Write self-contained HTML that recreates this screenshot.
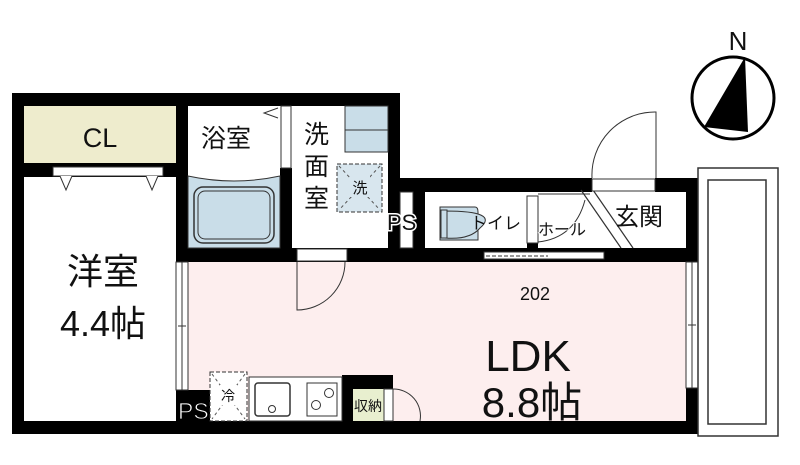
<!DOCTYPE html>
<html><head><meta charset="utf-8"><style>
html,body{margin:0;padding:0;background:#fff;}
svg{display:block;}
text{font-family:"Liberation Sans","Noto Sans CJK JP",sans-serif;fill:#111;}
</style></head><body>
<svg width="800" height="465" viewBox="0 0 800 465" xmlns="http://www.w3.org/2000/svg">
<rect x="24" y="106" width="152" height="57" fill="#eeeccd"/>
<rect x="188" y="262" width="498" height="160" fill="#fdeeee"/>
<g fill="#000">
<rect x="12" y="93" width="388" height="13"/>
<rect x="12" y="93" width="12" height="340"/>
<rect x="12" y="421" width="686" height="13"/>
<rect x="24" y="163" width="152" height="14"/>
<rect x="176" y="93" width="12" height="169"/>
<rect x="280" y="168" width="12" height="94"/>
<rect x="388" y="93" width="12" height="169"/>
<rect x="176" y="248" width="224" height="14"/>
<rect x="400" y="178" width="192" height="14"/>
<rect x="655" y="178" width="43" height="14"/>
<rect x="686" y="178" width="12" height="84"/>
<rect x="686" y="388" width="12" height="46"/>
<rect x="413" y="192" width="12" height="70"/>
<rect x="400" y="248" width="286" height="14"/>
<rect x="527" y="243" width="11" height="19"/>
<rect x="176" y="390" width="36" height="32"/>
<rect x="342" y="375" width="51" height="47"/>
</g>
<rect x="53" y="167" width="110" height="9" fill="#fff" stroke="#333" stroke-width="1"/>
<path d="M60 176 L66 190 L72 176 M146 176 L152 190 L158 176" fill="#fff" stroke="#333"/>
<rect x="281" y="106" width="10" height="62" fill="#fff" stroke="#333" stroke-width="1"/>
<path d="M278 108 L264 113 L278 118" fill="#fff" stroke="#333"/>
<path d="M188 176 Q234 186 280 176 L280 248 L188 248 Z" fill="#c9dde8" stroke="#333"/>
<rect x="194" y="187" width="80" height="56" rx="9" fill="#c9dde8" stroke="#333" stroke-width="1.5"/>
<rect x="198" y="191" width="72" height="48" rx="7" fill="none" stroke="#333"/>
<rect x="345" y="106" width="43" height="46" fill="#c9dde8" stroke="#333"/>
<line x1="345" y1="130" x2="388" y2="130" stroke="#333"/>
<rect x="337" y="164" width="45" height="48" fill="#d8e6ee" stroke="#333" stroke-dasharray="4,2"/>
<path d="M339 166 L380 210 M380 166 L339 210" stroke="#555" stroke-dasharray="3,3"/>
<rect x="350" y="175" width="20" height="22" fill="#d8e6ee"/>
<text x="360" y="193" font-size="15" text-anchor="middle">洗</text>
<rect x="297" y="249" width="50" height="12" fill="#fff" stroke="#333"/>
<path d="M297 262 L297 310 A48 48 0 0 0 345 262" fill="none" stroke="#333"/>
<rect x="400" y="192" width="13" height="56" fill="#fff" stroke="#333"/>
<text x="387" y="230" font-size="22" stroke="#fff" stroke-width="3" paint-order="stroke">PS</text>
<path d="M440 207 L475 207 Q478 207 478 212 L478 240 L440 240 Z" fill="#c9dde8" stroke="#333"/>
<path d="M445 211 Q500 211 480 228 Q470 240 445 238 Z" fill="#c9dde8" stroke="#333"/>
<rect x="441" y="210" width="6" height="28" fill="#c9dde8" stroke="#333"/>
<text x="470" y="229" font-size="17">トイレ</text>
<rect x="527" y="196" width="11" height="47" fill="#fff" stroke="#333"/>
<path d="M538 194 L590 194 M538 242 Q575 238 585 200" fill="none" stroke="#333"/>
<line x1="581" y1="190" x2="621" y2="248" stroke="#333" stroke-width="1.2"/>
<line x1="593" y1="190" x2="633" y2="248" stroke="#333" stroke-width="1.2"/>
<text x="538" y="235" font-size="16" stroke="#fdfdfd" stroke-width="2" paint-order="stroke">ホール</text>
<text x="615" y="225" font-size="24">玄関</text>
<rect x="484" y="252" width="120" height="7" fill="#fff" stroke="#333"/>
<line x1="486" y1="256" x2="548" y2="256" stroke="#333" stroke-dasharray="4,2"/>
<rect x="592" y="179" width="63" height="12" fill="#fff" stroke="#333"/>
<path d="M656 178 L656 112 A63 63 0 0 0 592 178" fill="none" stroke="#333"/>
<rect x="176" y="262" width="12" height="128" fill="#fff" stroke="#333"/>
<line x1="182" y1="262" x2="182" y2="390" stroke="#333"/>
<line x1="178" y1="326" x2="186" y2="326" stroke="#333"/>
<rect x="686" y="262" width="12" height="126" fill="#fff" stroke="#333"/>
<line x1="692" y1="262" x2="692" y2="388" stroke="#333"/>
<line x1="688" y1="325" x2="696" y2="325" stroke="#333"/>
<rect x="698" y="168" width="80" height="268" fill="#fff" stroke="#333" stroke-width="1.5"/>
<rect x="708" y="180" width="58" height="244" fill="#fff" stroke="#333" stroke-width="1.5"/>
<text x="178" y="419" font-size="23" style="fill:#fff" stroke="#000" stroke-width="0.8">PS</text>
<rect x="210" y="372" width="37" height="49" fill="#fff" stroke="#333" stroke-dasharray="4,2"/>
<path d="M212 374 L245 419 M245 374 L212 419" stroke="#555" stroke-dasharray="3,3"/>
<rect x="220" y="385" width="17" height="20" fill="#fff"/>
<text x="228" y="401" font-size="14" text-anchor="middle">冷</text>
<rect x="249" y="377" width="93" height="44" fill="#fff" stroke="#333"/>
<rect x="255" y="383" width="35" height="33" rx="3" fill="#fff" stroke="#333" stroke-width="1.5"/>
<circle cx="272" cy="409" r="3.5" fill="#fff" stroke="#333"/>
<rect x="307" y="383" width="30" height="33" fill="#fff" stroke="#333"/>
<circle cx="316" cy="405" r="4.5" fill="none" stroke="#333"/>
<circle cx="329" cy="393" r="4.5" fill="none" stroke="#333"/>
<rect x="353" y="389" width="31" height="32" fill="#e8efcf"/>
<rect x="384" y="389" width="9" height="32" fill="#fff" stroke="#333"/>
<text x="368" y="411" font-size="14" text-anchor="middle">収納</text>
<path d="M393 389 A27 27 0 0 1 420 421" fill="none" stroke="#333"/>
<text x="201" y="147" font-size="25">浴室</text>
<text x="304" y="143" font-size="25">洗</text>
<text x="304" y="175" font-size="25">面</text>
<text x="304" y="207" font-size="25">室</text>
<text x="100" y="147" font-size="27" text-anchor="middle">CL</text>
<text x="103" y="284" font-size="36" text-anchor="middle">洋室</text>
<text x="103" y="336" font-size="36" text-anchor="middle">4.4帖</text>
<text x="535" y="300" font-size="18" text-anchor="middle">202</text>
<text x="528" y="371" font-size="44" text-anchor="middle">LDK</text>
<text x="532" y="417" font-size="42" text-anchor="middle">8.8帖</text>
<circle cx="733" cy="98" r="41" fill="#fff" stroke="#000" stroke-width="3"/>
<path d="M704 127 L745 57 L748 132 Z" fill="#000"/>
<text x="738" y="50" font-size="26" text-anchor="middle">N</text>
</svg>
</body></html>
